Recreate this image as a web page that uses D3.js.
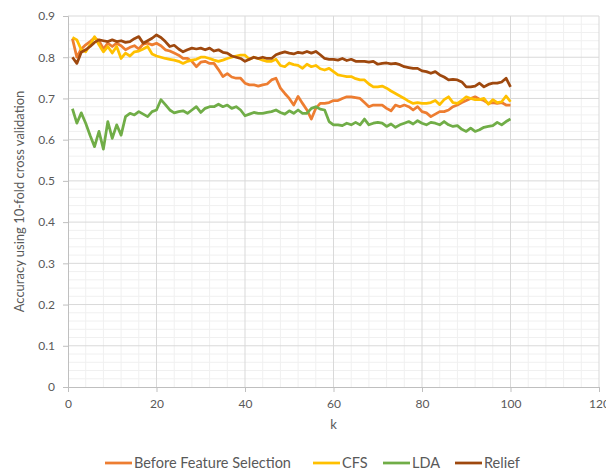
<!DOCTYPE html>
<meta charset="utf-8">
<style>
  body { margin: 0; background: #fff; }
  text { font-family: Lato, "Liberation Sans", sans-serif; fill: #595959; }
</style>
<body>
<script src="https://d3js.org/d3.v7.min.js"></script>
<script>

// k = 1..100
var ks = d3.range(1, 101);

var seriesNames = ["Before Feature Selection", "CFS", "LDA", "Relief"];

var beforeFS = [
  0.845, 0.800, 0.820, 0.830, 0.838, 0.847, 0.840, 0.820, 0.834, 0.826,
  0.834, 0.828, 0.818, 0.824, 0.828, 0.820, 0.832, 0.834, 0.830, 0.834,
  0.828, 0.818, 0.815, 0.810, 0.805, 0.797, 0.797, 0.790, 0.777, 0.788,
  0.790, 0.785, 0.785, 0.770, 0.753, 0.760, 0.752, 0.749, 0.749, 0.737,
  0.733, 0.733, 0.730, 0.733, 0.735, 0.745, 0.749, 0.725, 0.712, 0.700,
  0.684, 0.705, 0.688, 0.672, 0.650, 0.676, 0.688, 0.688, 0.690, 0.695,
  0.695, 0.700, 0.704, 0.704, 0.702, 0.700, 0.690, 0.680, 0.684, 0.684,
  0.684, 0.676, 0.670, 0.684, 0.680, 0.684, 0.680, 0.672, 0.680, 0.668,
  0.665, 0.656, 0.662, 0.668, 0.668, 0.672, 0.680, 0.684, 0.690, 0.695,
  0.700, 0.704, 0.698, 0.695, 0.688, 0.690, 0.688, 0.690, 0.684, 0.684
];

var cfs = [
  0.848, 0.842, 0.818, 0.813, 0.830, 0.850, 0.830, 0.813, 0.826, 0.810,
  0.826, 0.797, 0.810, 0.803, 0.813, 0.815, 0.820, 0.826, 0.808, 0.803,
  0.800, 0.797, 0.795, 0.793, 0.790, 0.785, 0.790, 0.793, 0.795, 0.800,
  0.800, 0.797, 0.793, 0.790, 0.793, 0.797, 0.800, 0.803, 0.805, 0.805,
  0.795, 0.800, 0.797, 0.793, 0.790, 0.790, 0.795, 0.780, 0.777, 0.786,
  0.782, 0.780, 0.773, 0.783, 0.777, 0.780, 0.772, 0.769, 0.773, 0.765,
  0.757, 0.755, 0.753, 0.753, 0.748, 0.745, 0.745, 0.735, 0.728, 0.728,
  0.730, 0.725, 0.718, 0.712, 0.706, 0.700, 0.693, 0.688, 0.690, 0.688,
  0.688, 0.690, 0.695, 0.685, 0.697, 0.704, 0.690, 0.688, 0.695, 0.704,
  0.700, 0.697, 0.697, 0.700, 0.686, 0.697, 0.690, 0.692, 0.706, 0.692
];

var lda = [
  0.675, 0.640, 0.665, 0.640, 0.610, 0.583, 0.620, 0.577, 0.644, 0.603,
  0.636, 0.611, 0.656, 0.664, 0.660, 0.668, 0.662, 0.656, 0.668, 0.672,
  0.697, 0.685, 0.672, 0.665, 0.668, 0.670, 0.664, 0.672, 0.680, 0.666,
  0.676, 0.680, 0.680, 0.686, 0.680, 0.684, 0.676, 0.680, 0.672, 0.658,
  0.662, 0.666, 0.664, 0.664, 0.666, 0.668, 0.672, 0.666, 0.662, 0.670,
  0.664, 0.672, 0.664, 0.664, 0.676, 0.680, 0.674, 0.672, 0.644, 0.636,
  0.636, 0.634, 0.640, 0.636, 0.642, 0.636, 0.650, 0.636, 0.640, 0.642,
  0.640, 0.632, 0.638, 0.630, 0.636, 0.640, 0.644, 0.638, 0.646, 0.640,
  0.636, 0.642, 0.640, 0.636, 0.644, 0.636, 0.632, 0.634, 0.625, 0.620,
  0.628, 0.620, 0.624, 0.630, 0.632, 0.634, 0.642, 0.636, 0.644, 0.650
];

var relief = [
  0.800, 0.785, 0.812, 0.818, 0.826, 0.836, 0.842, 0.840, 0.838, 0.842,
  0.838, 0.840, 0.836, 0.838, 0.845, 0.850, 0.834, 0.840, 0.846, 0.854,
  0.848, 0.838, 0.826, 0.829, 0.820, 0.813, 0.818, 0.822, 0.820, 0.822,
  0.818, 0.822, 0.815, 0.818, 0.812, 0.810, 0.803, 0.800, 0.797, 0.790,
  0.795, 0.800, 0.797, 0.800, 0.797, 0.797, 0.806, 0.810, 0.813, 0.810,
  0.808, 0.812, 0.810, 0.814, 0.810, 0.814, 0.806, 0.797, 0.795, 0.795,
  0.793, 0.797, 0.792, 0.795, 0.790, 0.790, 0.790, 0.788, 0.790, 0.783,
  0.785, 0.786, 0.784, 0.785, 0.782, 0.777, 0.775, 0.773, 0.773, 0.767,
  0.765, 0.761, 0.765, 0.757, 0.752, 0.745, 0.746, 0.745, 0.740, 0.728,
  0.728, 0.730, 0.737, 0.728, 0.734, 0.737, 0.737, 0.740, 0.749, 0.728
];

var colors = ["#ed7d31", "#ffc000", "#70ad47", "#9e480e"];

var xTicks = [0, 20, 40, 60, 80, 100, 120];
var yTicks = [0, 0.1, 0.2, 0.3, 0.4, 0.5, 0.6, 0.7, 0.8, 0.9];

var W = 606, H = 473;
var margin = {top: 16, right: 7, bottom: 86, left: 68},
    width = W - margin.left - margin.right,
    height = H - margin.top - margin.bottom;

var x = d3.scaleLinear().domain([0, 120]).range([0, width]);
var y = d3.scaleLinear().domain([0, 0.9]).range([height, 0]);

var svg = d3.select("body").append("svg")
    .attr("width", W)
    .attr("height", H);

var g = svg.append("g")
    .attr("transform", "translate(" + margin.left + "," + margin.top + ")");

// minor grid
g.append("g").selectAll("line")
    .data(d3.range(0, 121, 4).filter(function(d) { return d % 20 !== 0; }))
  .enter().append("line")
    .attr("x1", function(d) { return x(d); }).attr("x2", function(d) { return x(d); })
    .attr("y1", 0).attr("y2", height)
    .attr("stroke", "#f0f0f0");
g.append("g").selectAll("line")
    .data(d3.range(0, 46).map(function(i) { return i * 0.02; }).filter(function(d, i) { return i % 5 !== 0; }))
  .enter().append("line")
    .attr("x1", 0).attr("x2", width)
    .attr("y1", function(d) { return y(d); }).attr("y2", function(d) { return y(d); })
    .attr("stroke", "#f0f0f0");

// major grid
g.append("g").selectAll("line")
    .data(xTicks.slice(1))
  .enter().append("line")
    .attr("x1", function(d) { return x(d); }).attr("x2", function(d) { return x(d); })
    .attr("y1", 0).attr("y2", height)
    .attr("stroke", "#d9d9d9");
g.append("g").selectAll("line")
    .data(yTicks.slice(1))
  .enter().append("line")
    .attr("x1", 0).attr("x2", width)
    .attr("y1", function(d) { return y(d); }).attr("y2", function(d) { return y(d); })
    .attr("stroke", "#d9d9d9");

// axes
var xAxis = g.append("g")
    .attr("transform", "translate(0," + height + ")")
    .call(d3.axisBottom(x).tickValues(xTicks).tickSize(5).tickPadding(7));
var yAxis = g.append("g")
    .call(d3.axisLeft(y).tickValues(yTicks).tickFormat(function(d) { return d === 0 ? "0" : d3.format(".1f")(d); }).tickSize(5).tickPadding(8));

[xAxis, yAxis].forEach(function(a) {
  a.select(".domain").attr("stroke", "#bfbfbf");
  a.selectAll(".tick line").attr("stroke", "#bfbfbf");
  a.selectAll("text").style("font-family", "Lato, sans-serif").style("font-size", "12px").attr("fill", "#595959");
});

// lines
var allSeries = [beforeFS, cfs, lda, relief];
var line = d3.line()
    .x(function(d, i) { return x(ks[i]); })
    .y(function(d) { return y(d); });

g.append("g").selectAll("path")
    .data(allSeries)
  .enter().append("path")
    .attr("d", line)
    .attr("fill", "none")
    .attr("stroke", function(d, i) { return colors[i]; })
    .attr("stroke-width", 2.75)
    .attr("stroke-linejoin", "round");

// axis titles
svg.append("text")
    .attr("x", margin.left + x(60))
    .attr("y", 429)
    .attr("text-anchor", "middle")
    .style("font-size", "13px")
    .text("k");

svg.append("text")
    .attr("transform", "translate(24," + (margin.top + y(0.45)) + ") rotate(-90)")
    .attr("text-anchor", "middle")
    .style("font-size", "13px")
    .text("Accuracy using 10-fold cross validation");

// legend
var legendX = [105, 313, 383, 455];
var leg = svg.append("g").selectAll("g")
    .data(seriesNames)
  .enter().append("g")
    .attr("transform", function(d, i) { return "translate(" + legendX[i] + ",463)"; });
leg.append("line")
    .attr("x1", 0).attr("x2", 27)
    .attr("stroke", function(d, i) { return colors[i]; })
    .attr("stroke-width", 2.75);
leg.append("text")
    .attr("x", 29)
    .attr("dy", "0.35em")
    .style("font-size", "14.5px")
    .text(function(d) { return d; });

</script>
</body>
